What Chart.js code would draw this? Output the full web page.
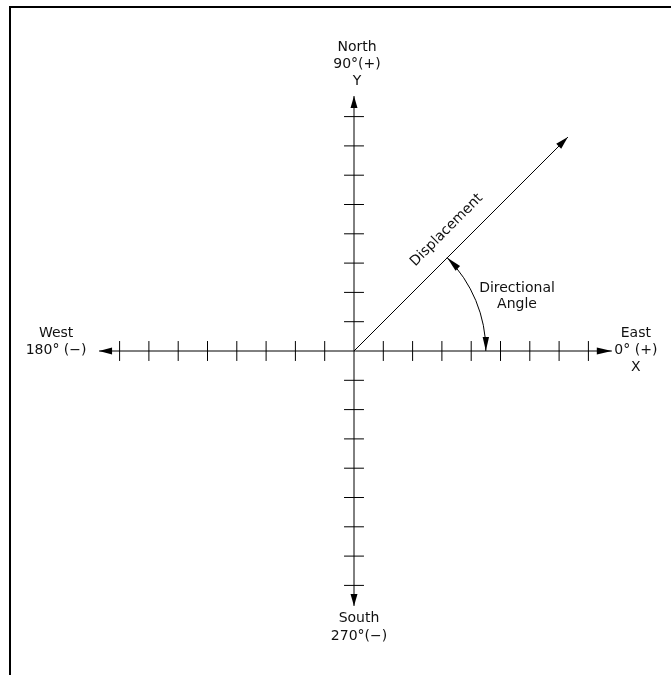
<!DOCTYPE html>
<html>
<head>
<meta charset="utf-8">
<script src="https://cdn.jsdelivr.net/npm/chart.js@4.4.0/dist/chart.umd.min.js"></script>
<style>
    html, body { margin: 0; padding: 0; background: #fff; }
    .wrap { width: 671px; height: 675px; position: relative; }
</style>
</head>
<body>
<div class="wrap"><canvas id="chart"></canvas></div>
<script>
// ======================  Data  ====================== //
const xTicks = [-8, -7, -6, -5, -4, -3, -2, -1, 1, 2, 3, 4, 5, 6, 7, 8];
const yTicks = [-8, -7, -6, -5, -4, -3, -2, -1, 1, 2, 3, 4, 5, 6, 7, 8];
const xAxisEnds = [-8.7, 8.8];
const yAxisEnds = [-8.7, 8.7];
const displacementEnd = [7.3, 7.3];
const angleDegrees = 45;
const arcRadius = 4.5;

const northLabels = ['North', '90°(+)', 'Y'];
const southLabels = ['South', '270°(−)'];
const westLabels = ['West', '180° (−)'];
const eastLabels = ['East', '0° (+)', 'X'];
const angleLabels = ['Directional', 'Angle'];
const lineLabel = 'Displacement';

const TICK = 0.34;
const FONT = '14px "DejaVu Sans"';

// ======================  Datasets  ====================== //
function seg(points) {
    return {
        data: points,
        showLine: true,
        borderColor: '#000',
        borderWidth: 1,
        pointRadius: 0,
        fill: false
    };
}

const datasets = [
    seg([{ x: xAxisEnds[0], y: 0 }, { x: xAxisEnds[1], y: 0 }]),
    seg([{ x: 0, y: yAxisEnds[0] }, { x: 0, y: yAxisEnds[1] }]),
    seg([{ x: 0, y: 0 }, { x: displacementEnd[0], y: displacementEnd[1] }])
];
xTicks.forEach(t => datasets.push(seg([{ x: t, y: -TICK }, { x: t, y: TICK }])));
yTicks.forEach(t => datasets.push(seg([{ x: -TICK, y: t }, { x: TICK, y: t }])));

// ======================  Drawing helpers  ====================== //
function arrow(ctx, tx, ty, ang, len, half) {
    const c = Math.cos(ang), s = Math.sin(ang);
    const bx = tx - len * c, by = ty - len * s;
    ctx.beginPath();
    ctx.moveTo(tx, ty);
    ctx.lineTo(bx - half * s, by + half * c);
    ctx.lineTo(bx + half * s, by - half * c);
    ctx.closePath();
    ctx.fill();
}

function lines(ctx, list, x, y, step) {
    list.forEach((t, i) => ctx.fillText(t, x, y + i * step));
}

const diagram = {
    id: 'diagram',
    beforeDraw(chart) {
        const ctx = chart.ctx;
        ctx.save();
        ctx.fillStyle = '#fff';
        ctx.fillRect(0, 0, chart.width, chart.height);
        ctx.fillStyle = '#000';
        ctx.fillRect(9, 6, chart.width - 9, 2);
        ctx.fillRect(9, 6, 2, chart.height - 6);
        ctx.restore();
    },
    afterDatasetsDraw(chart) {
        const ctx = chart.ctx;
        const xs = chart.scales.x, ys = chart.scales.y;
        const ox = xs.getPixelForValue(0), oy = ys.getPixelForValue(0);
        const left = xs.getPixelForValue(xAxisEnds[0]);
        const right = xs.getPixelForValue(xAxisEnds[1]);
        const bottom = ys.getPixelForValue(yAxisEnds[0]);
        const top = ys.getPixelForValue(yAxisEnds[1]);
        const dx = xs.getPixelForValue(displacementEnd[0]);
        const dy = ys.getPixelForValue(displacementEnd[1]);

        ctx.save();
        ctx.fillStyle = '#000';
        ctx.strokeStyle = '#000';
        ctx.lineWidth = 1;

        // axis arrows
        arrow(ctx, left, oy, Math.PI, 13, 3.5);
        arrow(ctx, right, oy, 0, 15, 3.5);
        arrow(ctx, ox, top, -Math.PI / 2, 12, 3.5);
        arrow(ctx, ox, bottom, Math.PI / 2, 12, 3.5);
        arrow(ctx, dx, dy, Math.atan2(dy - oy, dx - ox), 13, 3.5);

        // directional angle arc
        const r = xs.getPixelForValue(arcRadius) - ox;
        const a = angleDegrees * Math.PI / 180;
        ctx.beginPath();
        ctx.arc(ox, oy, r, -a, 0);
        ctx.stroke();
        arrow(ctx, ox + r * Math.cos(-a), oy + r * Math.sin(-a), -a - Math.PI / 2, 15, 3.2);
        arrow(ctx, ox + r, oy, Math.PI / 2, 14, 3.2);

        // labels
        ctx.fillStyle = '#111';
        ctx.font = FONT;
        ctx.textAlign = 'center';
        ctx.textBaseline = 'middle';
        lines(ctx, northLabels, ox + 3, top - 49, 17);
        lines(ctx, southLabels, ox + 5, bottom + 12, 18);
        lines(ctx, westLabels, left - 43, oy - 18, 17);
        lines(ctx, eastLabels, right + 24, oy - 18, 17);
        lines(ctx, angleLabels, ox + 163, oy - 63, 16);

        const dist = 151, off = 20;
        const u = Math.cos(a);
        ctx.translate(ox + dist * u - off * u, oy - dist * u - off * u);
        ctx.rotate(-a);
        ctx.fillText(lineLabel, 0, 0);
        ctx.restore();
    }
};

// ======================  Chart  ====================== //
const UNIT = 29.3;
const ctx = document.getElementById('chart');

new Chart(ctx, {
    type: 'scatter',
    data: { datasets: datasets },
    options: {
        responsive: true,
        maintainAspectRatio: false,
        animation: false,
        layout: { padding: 0 },
        scales: {
            x: { display: false, min: -354 / UNIT, max: (671 - 354) / UNIT },
            y: { display: false, min: -(675 - 351) / UNIT, max: 351 / UNIT }
        },
        plugins: {
            legend: { display: false },
            tooltip: { enabled: false }
        }
    },
    plugins: [diagram]
});
</script>
</body>
</html>
